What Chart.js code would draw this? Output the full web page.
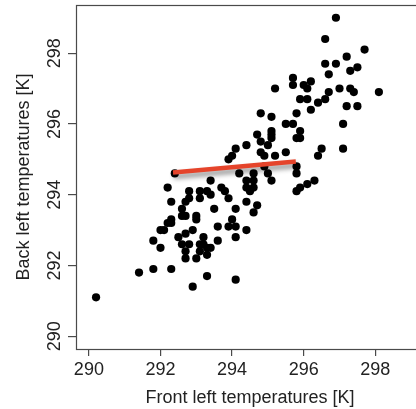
<!DOCTYPE html>
<html>
<head>
<meta charset="utf-8">
<script src="https://cdn.jsdelivr.net/npm/chart.js@4/dist/chart.umd.min.js"></script>
<style>
  html, body { margin: 0; padding: 0; background: #fff; overflow: hidden; width: 416px; height: 409px; }
  #wrap { width: 430px; height: 409px; }
</style>
</head>
<body>
<div id="wrap"><canvas id="c" width="430" height="409"></canvas></div>
<script>
const frontTemps = [290.2,291.4,291.8,291.8,292.0,292.0,292.1,292.2,292.3,292.3,292.3,292.2,292.3,292.4,292.5,292.6,292.6,292.6,292.7,292.7,292.7,292.7,292.7,292.8,292.8,292.8,292.9,292.9,293.0,293.0,293.0,293.1,293.1,293.1,293.1,293.2,293.2,293.3,293.3,293.3,293.3,293.4,293.4,293.4,293.5,293.6,293.6,293.7,293.8,293.9,293.9,293.9,294.0,294.0,294.1,294.1,294.1,294.1,294.1,294.2,294.4,294.4,294.4,294.4,294.4,294.5,294.6,294.6,294.6,294.6,294.7,294.7,294.8,294.8,294.8,294.9,294.9,295.0,295.0,295.1,295.1,295.1,295.1,295.1,295.2,295.2,295.5,295.5,295.7,295.7,295.7,295.8,295.8,295.8,295.8,295.8,295.9,295.9,295.9,295.9,296.0,296.1,296.1,296.1,296.2,296.2,296.3,296.4,296.4,296.5,296.6,296.6,296.6,296.7,296.7,296.9,296.9,297.0,297.1,297.1,297.2,297.2,297.3,297.3,297.4,297.5,297.5,297.7,298.1];
const backTemps  = [291.1,291.8,291.9,292.7,292.5,293.0,293.0,294.2,293.8,293.3,293.2,293.2,291.9,294.6,292.8,293.6,293.4,292.6,293.8,293.4,292.9,292.4,292.2,294.1,293.9,292.6,293.0,291.4,293.4,293.3,292.2,294.1,293.9,292.6,292.4,292.8,292.6,294.1,292.5,292.3,291.7,294.4,294.0,292.5,293.6,293.1,292.7,294.2,294.1,293.9,293.1,295.0,295.1,293.3,295.3,293.6,293.1,292.8,291.6,294.6,295.4,294.4,294.2,293.8,293.0,294.1,294.6,294.4,294.2,293.5,295.7,293.7,296.3,295.5,295.2,295.1,294.8,295.4,294.6,296.2,295.8,295.7,295.6,294.4,297.0,295.1,296.0,295.2,297.3,297.1,296.0,296.3,295.6,294.8,294.6,294.1,296.7,295.8,295.6,294.2,297.1,297.0,296.7,294.3,297.2,296.4,294.4,296.6,295.1,295.3,298.4,297.7,296.7,297.4,296.9,299.0,297.7,297.0,296.0,295.3,297.9,296.5,297.5,297.0,296.9,297.6,296.5,298.1,296.9];
const fitLineX = [292.35, 295.78];
const fitLineY = [294.63, 294.94];
const xTicks = [290, 292, 294, 296, 298];
const yTicks = [290, 292, 294, 296, 298];
const xTitle = 'Front left temperatures [K]';
const yTitle = 'Back left temperatures [K]';
const axisMin = 289.64, axisMax = 299.36;

const FONT = '"Liberation Sans", Arial, Helvetica, sans-serif';
const AXIS_COLOR = '#4a4a4a';

const points = frontTemps.map((x, i) => ({ x: x, y: backTemps[i] }));
const linePts = fitLineX.map((x, i) => ({ x: x, y: fitLineY[i] }));

const decorPlugin = {
  id: 'decor',
  beforeDatasetDraw(chart, args) {
    if (args.index === 0) {
      const ctx = chart.ctx;
      ctx.save();
      ctx.shadowColor = 'rgba(0,0,0,0.45)';
      ctx.shadowBlur = 5;
      ctx.shadowOffsetX = 1;
      ctx.shadowOffsetY = 4;
    }
  },
  afterDatasetDraw(chart, args) {
    if (args.index === 0) chart.ctx.restore();
  },
  afterDraw(chart) {
    const ctx = chart.ctx;
    const a = chart.chartArea;
    ctx.save();
    ctx.strokeStyle = AXIS_COLOR;
    ctx.lineWidth = 1.2;
    ctx.strokeRect(Math.round(a.left) + 0.5, Math.round(a.top) + 0.5, Math.round(a.right - a.left), Math.round(a.bottom - a.top));
    const ys = chart.scales.y;
    ctx.fillStyle = '#222';
    ctx.font = '18px ' + FONT;
    ctx.textAlign = 'center';
    ctx.textBaseline = 'alphabetic';
    yTicks.forEach(v => {
      const py = ys.getPixelForValue(v);
      ctx.save();
      ctx.translate(59.5, py);
      ctx.rotate(-Math.PI / 2);
      ctx.fillText(String(v), 0, 0);
      ctx.restore();
    });
    ctx.restore();
  }
};

new Chart(document.getElementById('c'), {
  data: {
    datasets: [
      {
        type: 'line',
        data: linePts,
        borderColor: '#e5442b',
        borderWidth: 4.5,
        pointRadius: 0,
        borderCapStyle: 'butt',
        fill: false
      },
      {
        type: 'scatter',
        data: points,
        backgroundColor: '#000',
        borderWidth: 0,
        pointRadius: 4.1,
        pointHoverRadius: 4.1
      }
    ]
  },
  options: {
    responsive: false,
    animation: false,
    events: [],
    layout: { padding: { top: 5, right: 6, left: 0, bottom: 0 } },
    plugins: { legend: { display: false }, tooltip: { enabled: false } },
    scales: {
      x: {
        type: 'linear',
        position: 'bottom',
        min: axisMin,
        max: axisMax,
        afterBuildTicks: s => { s.ticks = xTicks.map(v => ({ value: v })); },
        afterFit: s => { s.height = 60; },
        grid: { drawOnChartArea: false, drawTicks: true, tickLength: 7, color: AXIS_COLOR, lineWidth: 1.2 },
        border: { display: false },
        ticks: { color: '#222', font: { family: FONT, size: 18 }, padding: 3, maxRotation: 0, autoSkip: false },
        title: { display: true, text: xTitle, color: '#222', font: { family: FONT, size: 18 }, padding: { top: 0, bottom: 0 } }
      },
      y: {
        type: 'linear',
        position: 'left',
        min: axisMin,
        max: axisMax,
        afterBuildTicks: s => { s.ticks = yTicks.map(v => ({ value: v })); },
        afterFit: s => { s.width = 76; },
        grid: { drawOnChartArea: false, drawTicks: true, tickLength: 8, color: AXIS_COLOR, lineWidth: 1.2 },
        border: { display: false },
        ticks: { display: false },
        title: { display: true, text: yTitle, color: '#222', font: { family: FONT, size: 18 }, padding: { top: 13, bottom: 0 } }
      }
    }
  },
  plugins: [decorPlugin]
});
</script>
</body>
</html>
